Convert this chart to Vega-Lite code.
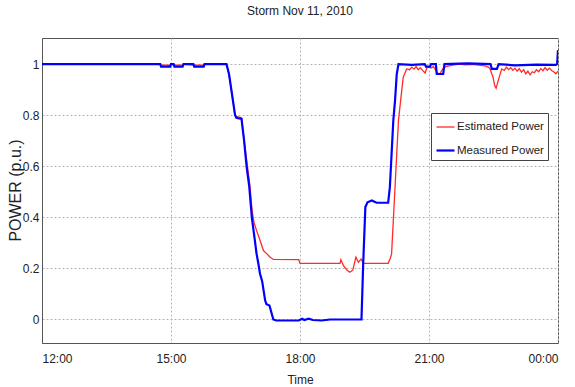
{
  "$schema": "https://vega.github.io/schema/vega-lite/v6.json",
  "width": 516,
  "height": 305,
  "autosize": {"type": "none"},
  "padding": {"left": 42, "top": 38, "right": 17, "bottom": 44},
  "background": "white",
  "title": {
    "text": "Storm Nov 11, 2010",
    "font": "Liberation Sans",
    "fontSize": 12,
    "fontWeight": "normal",
    "color": "#222",
    "anchor": "middle",
    "offset": 20
  },
  "config": {
    "view": {"stroke": "#555", "strokeWidth": 1},
    "axis": {
      "labelFont": "Liberation Sans",
      "labelFontSize": 12,
      "labelColor": "#222",
      "titleColor": "#222",
      "titleFontWeight": "normal",
      "ticks": false,
      "domainColor": "#555",
      "gridColor": "#b4b4b4",
      "gridDash": [2, 2],
      "gridWidth": 1
    },
    "legend": {
      "labelFont": "Liberation Sans",
      "labelFontSize": 11.5,
      "labelColor": "#222"
    }
  },
  "data": {
    "values": [
      {"series": "Estimated Power", "hour": 12.0, "power": 1.0},
      {"series": "Estimated Power", "hour": 14.75, "power": 1.0},
      {"series": "Estimated Power", "hour": 14.77, "power": 0.996},
      {"series": "Estimated Power", "hour": 14.98, "power": 0.996},
      {"series": "Estimated Power", "hour": 15.0, "power": 1.0},
      {"series": "Estimated Power", "hour": 15.08, "power": 0.996},
      {"series": "Estimated Power", "hour": 15.27, "power": 0.996},
      {"series": "Estimated Power", "hour": 15.29, "power": 1.0},
      {"series": "Estimated Power", "hour": 15.54, "power": 0.996},
      {"series": "Estimated Power", "hour": 15.76, "power": 0.996},
      {"series": "Estimated Power", "hour": 15.78, "power": 1.0},
      {"series": "Estimated Power", "hour": 16.29, "power": 1.0},
      {"series": "Estimated Power", "hour": 16.35, "power": 0.96},
      {"series": "Estimated Power", "hour": 16.42, "power": 0.88},
      {"series": "Estimated Power", "hour": 16.49, "power": 0.8},
      {"series": "Estimated Power", "hour": 16.52, "power": 0.795},
      {"series": "Estimated Power", "hour": 16.64, "power": 0.79},
      {"series": "Estimated Power", "hour": 16.7, "power": 0.7},
      {"series": "Estimated Power", "hour": 16.77, "power": 0.61},
      {"series": "Estimated Power", "hour": 16.83, "power": 0.53},
      {"series": "Estimated Power", "hour": 16.89, "power": 0.42},
      {"series": "Estimated Power", "hour": 16.93, "power": 0.38},
      {"series": "Estimated Power", "hour": 16.99, "power": 0.348},
      {"series": "Estimated Power", "hour": 17.07, "power": 0.31},
      {"series": "Estimated Power", "hour": 17.15, "power": 0.27},
      {"series": "Estimated Power", "hour": 17.23, "power": 0.257},
      {"series": "Estimated Power", "hour": 17.3, "power": 0.245},
      {"series": "Estimated Power", "hour": 17.38, "power": 0.235},
      {"series": "Estimated Power", "hour": 17.97, "power": 0.234},
      {"series": "Estimated Power", "hour": 18.0, "power": 0.22},
      {"series": "Estimated Power", "hour": 18.93, "power": 0.22},
      {"series": "Estimated Power", "hour": 18.95, "power": 0.234},
      {"series": "Estimated Power", "hour": 19.01, "power": 0.211},
      {"series": "Estimated Power", "hour": 19.09, "power": 0.194},
      {"series": "Estimated Power", "hour": 19.16, "power": 0.185},
      {"series": "Estimated Power", "hour": 19.23, "power": 0.194},
      {"series": "Estimated Power", "hour": 19.3, "power": 0.244},
      {"series": "Estimated Power", "hour": 19.36, "power": 0.224},
      {"series": "Estimated Power", "hour": 19.42, "power": 0.237},
      {"series": "Estimated Power", "hour": 19.47, "power": 0.22},
      {"series": "Estimated Power", "hour": 20.05, "power": 0.22},
      {"series": "Estimated Power", "hour": 20.1, "power": 0.24},
      {"series": "Estimated Power", "hour": 20.13, "power": 0.257},
      {"series": "Estimated Power", "hour": 20.17, "power": 0.387},
      {"series": "Estimated Power", "hour": 20.21, "power": 0.518},
      {"series": "Estimated Power", "hour": 20.25, "power": 0.649},
      {"series": "Estimated Power", "hour": 20.29, "power": 0.779},
      {"series": "Estimated Power", "hour": 20.34, "power": 0.857},
      {"series": "Estimated Power", "hour": 20.4, "power": 0.948},
      {"series": "Estimated Power", "hour": 20.48, "power": 0.981},
      {"series": "Estimated Power", "hour": 20.55, "power": 0.978},
      {"series": "Estimated Power", "hour": 20.6, "power": 0.988},
      {"series": "Estimated Power", "hour": 20.65, "power": 0.98},
      {"series": "Estimated Power", "hour": 20.7, "power": 0.99},
      {"series": "Estimated Power", "hour": 20.75, "power": 0.978},
      {"series": "Estimated Power", "hour": 20.8, "power": 0.986},
      {"series": "Estimated Power", "hour": 20.85, "power": 0.975},
      {"series": "Estimated Power", "hour": 20.91, "power": 0.965},
      {"series": "Estimated Power", "hour": 20.95, "power": 0.985},
      {"series": "Estimated Power", "hour": 21.0, "power": 0.99},
      {"series": "Estimated Power", "hour": 21.05, "power": 0.985},
      {"series": "Estimated Power", "hour": 21.1, "power": 0.99},
      {"series": "Estimated Power", "hour": 21.15, "power": 0.978},
      {"series": "Estimated Power", "hour": 21.2, "power": 0.965},
      {"series": "Estimated Power", "hour": 21.25, "power": 0.962},
      {"series": "Estimated Power", "hour": 21.3, "power": 0.975},
      {"series": "Estimated Power", "hour": 21.35, "power": 0.988},
      {"series": "Estimated Power", "hour": 21.45, "power": 0.992},
      {"series": "Estimated Power", "hour": 21.55, "power": 0.996},
      {"series": "Estimated Power", "hour": 21.7, "power": 1.0},
      {"series": "Estimated Power", "hour": 21.85, "power": 0.997},
      {"series": "Estimated Power", "hour": 22.0, "power": 0.999},
      {"series": "Estimated Power", "hour": 22.15, "power": 0.996},
      {"series": "Estimated Power", "hour": 22.3, "power": 0.993},
      {"series": "Estimated Power", "hour": 22.38, "power": 0.988},
      {"series": "Estimated Power", "hour": 22.42, "power": 0.981},
      {"series": "Estimated Power", "hour": 22.49, "power": 0.948},
      {"series": "Estimated Power", "hour": 22.53, "power": 0.915},
      {"series": "Estimated Power", "hour": 22.56, "power": 0.905},
      {"series": "Estimated Power", "hour": 22.61, "power": 0.935},
      {"series": "Estimated Power", "hour": 22.69, "power": 0.981},
      {"series": "Estimated Power", "hour": 22.75, "power": 0.975},
      {"series": "Estimated Power", "hour": 22.8, "power": 0.988},
      {"series": "Estimated Power", "hour": 22.85, "power": 0.978},
      {"series": "Estimated Power", "hour": 22.9, "power": 0.986},
      {"series": "Estimated Power", "hour": 22.95, "power": 0.976},
      {"series": "Estimated Power", "hour": 23.0, "power": 0.984},
      {"series": "Estimated Power", "hour": 23.05, "power": 0.972},
      {"series": "Estimated Power", "hour": 23.1, "power": 0.982},
      {"series": "Estimated Power", "hour": 23.15, "power": 0.968},
      {"series": "Estimated Power", "hour": 23.2, "power": 0.978},
      {"series": "Estimated Power", "hour": 23.25, "power": 0.962},
      {"series": "Estimated Power", "hour": 23.3, "power": 0.972},
      {"series": "Estimated Power", "hour": 23.35, "power": 0.958},
      {"series": "Estimated Power", "hour": 23.4, "power": 0.97},
      {"series": "Estimated Power", "hour": 23.45, "power": 0.966},
      {"series": "Estimated Power", "hour": 23.5, "power": 0.978},
      {"series": "Estimated Power", "hour": 23.55, "power": 0.97},
      {"series": "Estimated Power", "hour": 23.6, "power": 0.982},
      {"series": "Estimated Power", "hour": 23.65, "power": 0.974},
      {"series": "Estimated Power", "hour": 23.7, "power": 0.986},
      {"series": "Estimated Power", "hour": 23.75, "power": 0.976},
      {"series": "Estimated Power", "hour": 23.8, "power": 0.984},
      {"series": "Estimated Power", "hour": 23.85, "power": 0.975},
      {"series": "Estimated Power", "hour": 23.9, "power": 0.97},
      {"series": "Estimated Power", "hour": 23.95, "power": 0.962},
      {"series": "Estimated Power", "hour": 24.0, "power": 0.972},

      {"series": "Measured Power", "hour": 12.0, "power": 1.0},
      {"series": "Measured Power", "hour": 14.75, "power": 1.0},
      {"series": "Measured Power", "hour": 14.77, "power": 0.99},
      {"series": "Measured Power", "hour": 14.98, "power": 0.99},
      {"series": "Measured Power", "hour": 15.0, "power": 1.0},
      {"series": "Measured Power", "hour": 15.06, "power": 1.0},
      {"series": "Measured Power", "hour": 15.08, "power": 0.99},
      {"series": "Measured Power", "hour": 15.27, "power": 0.99},
      {"series": "Measured Power", "hour": 15.29, "power": 1.0},
      {"series": "Measured Power", "hour": 15.52, "power": 1.0},
      {"series": "Measured Power", "hour": 15.54, "power": 0.99},
      {"series": "Measured Power", "hour": 15.76, "power": 0.99},
      {"series": "Measured Power", "hour": 15.78, "power": 1.0},
      {"series": "Measured Power", "hour": 16.29, "power": 1.0},
      {"series": "Measured Power", "hour": 16.35, "power": 0.96},
      {"series": "Measured Power", "hour": 16.42, "power": 0.88},
      {"series": "Measured Power", "hour": 16.49, "power": 0.8},
      {"series": "Measured Power", "hour": 16.52, "power": 0.79},
      {"series": "Measured Power", "hour": 16.64, "power": 0.785},
      {"series": "Measured Power", "hour": 16.7, "power": 0.7},
      {"series": "Measured Power", "hour": 16.76, "power": 0.596},
      {"series": "Measured Power", "hour": 16.82, "power": 0.52},
      {"series": "Measured Power", "hour": 16.88, "power": 0.4},
      {"series": "Measured Power", "hour": 16.95, "power": 0.31},
      {"series": "Measured Power", "hour": 16.99, "power": 0.257},
      {"series": "Measured Power", "hour": 17.03, "power": 0.22},
      {"series": "Measured Power", "hour": 17.07, "power": 0.179},
      {"series": "Measured Power", "hour": 17.12, "power": 0.15},
      {"series": "Measured Power", "hour": 17.19, "power": 0.074},
      {"series": "Measured Power", "hour": 17.22, "power": 0.06},
      {"series": "Measured Power", "hour": 17.29, "power": 0.055},
      {"series": "Measured Power", "hour": 17.33, "power": 0.03},
      {"series": "Measured Power", "hour": 17.38, "power": 0.0},
      {"series": "Measured Power", "hour": 17.45, "power": -0.004},
      {"series": "Measured Power", "hour": 17.97, "power": -0.004},
      {"series": "Measured Power", "hour": 18.05, "power": 0.003},
      {"series": "Measured Power", "hour": 18.1, "power": -0.002},
      {"series": "Measured Power", "hour": 18.2, "power": 0.003},
      {"series": "Measured Power", "hour": 18.3, "power": -0.002},
      {"series": "Measured Power", "hour": 18.5, "power": -0.004},
      {"series": "Measured Power", "hour": 18.7, "power": 0.0},
      {"series": "Measured Power", "hour": 19.0, "power": 0.0},
      {"series": "Measured Power", "hour": 19.43, "power": 0.0},
      {"series": "Measured Power", "hour": 19.47, "power": 0.22},
      {"series": "Measured Power", "hour": 19.52, "power": 0.44},
      {"series": "Measured Power", "hour": 19.57, "power": 0.459},
      {"series": "Measured Power", "hour": 19.67, "power": 0.466},
      {"series": "Measured Power", "hour": 19.78, "power": 0.457},
      {"series": "Measured Power", "hour": 20.05, "power": 0.457},
      {"series": "Measured Power", "hour": 20.09, "power": 0.518},
      {"series": "Measured Power", "hour": 20.13, "power": 0.649},
      {"series": "Measured Power", "hour": 20.17, "power": 0.779},
      {"series": "Measured Power", "hour": 20.21, "power": 0.857},
      {"series": "Measured Power", "hour": 20.25, "power": 0.961},
      {"series": "Measured Power", "hour": 20.29, "power": 1.0},
      {"series": "Measured Power", "hour": 20.6, "power": 0.997},
      {"series": "Measured Power", "hour": 20.9, "power": 1.0},
      {"series": "Measured Power", "hour": 20.93, "power": 0.99},
      {"series": "Measured Power", "hour": 21.02, "power": 0.99},
      {"series": "Measured Power", "hour": 21.05, "power": 1.0},
      {"series": "Measured Power", "hour": 21.16, "power": 1.0},
      {"series": "Measured Power", "hour": 21.18, "power": 0.961},
      {"series": "Measured Power", "hour": 21.33, "power": 0.961},
      {"series": "Measured Power", "hour": 21.36, "power": 1.0},
      {"series": "Measured Power", "hour": 21.9, "power": 1.003},
      {"series": "Measured Power", "hour": 22.43, "power": 1.0},
      {"series": "Measured Power", "hour": 22.46, "power": 0.981},
      {"series": "Measured Power", "hour": 22.58, "power": 0.981},
      {"series": "Measured Power", "hour": 22.62, "power": 1.0},
      {"series": "Measured Power", "hour": 23.0, "power": 0.995},
      {"series": "Measured Power", "hour": 23.5, "power": 0.998},
      {"series": "Measured Power", "hour": 23.95, "power": 0.997},
      {"series": "Measured Power", "hour": 23.98, "power": 1.0},
      {"series": "Measured Power", "hour": 24.0, "power": 1.055}
    ]
  },
  "mark": {"type": "line", "clip": true},
  "encoding": {
    "x": {
      "field": "hour",
      "type": "quantitative",
      "scale": {"domain": [12, 24], "nice": false, "zero": false},
      "axis": {
        "values": [12, 15, 18, 21, 24],
        "labelExpr": "datum.value == 24 ? '00:00' : datum.value + ':00'",
        "labelPadding": 10,
        "title": "Time",
        "titleFont": "Liberation Sans",
        "titleFontSize": 12,
        "titleBaseline": "middle",
        "titleX": 258,
        "titleY": 36
      }
    },
    "y": {
      "field": "power",
      "type": "quantitative",
      "scale": {"domain": [-0.092, 1.102], "nice": false, "zero": false},
      "axis": {
        "values": [0, 0.2, 0.4, 0.6, 0.8, 1],
        "format": "~g",
        "labelPadding": 3,
        "title": "POWER (p.u.)",
        "titleFont": "Liberation Sans",
        "titleFontSize": 16,
        "titleBaseline": "middle",
        "titleAngle": 270,
        "titleX": -27,
        "titleY": 152
      }
    },
    "color": {
      "field": "series",
      "type": "nominal",
      "scale": {"domain": ["Estimated Power", "Measured Power"], "range": ["#ff2a2a", "#0000ff"]},
      "legend": {
        "title": null,
        "orient": "none",
        "legendX": 389,
        "legendY": 75,
        "symbolType": "stroke",
        "symbolSize": 324,
        "symbolStrokeWidth": 1.5,
        "labelOffset": 1,
        "padding": 4,
        "rowPadding": 7,
        "fillColor": "white",
        "strokeColor": "#444"
      }
    },
    "strokeWidth": {
      "field": "series",
      "type": "nominal",
      "scale": {"domain": ["Estimated Power", "Measured Power"], "range": [1.3, 2.2]},
      "legend": null
    }
  }
}
